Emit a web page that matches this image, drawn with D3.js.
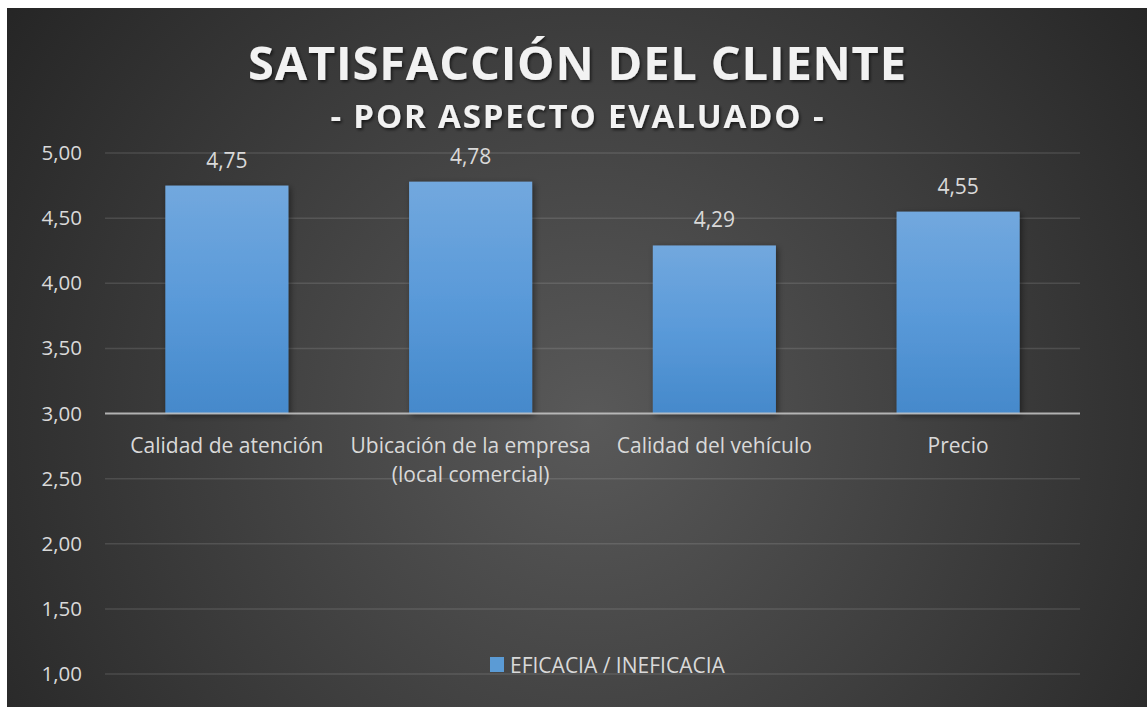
<!DOCTYPE html>
<html>
<head>
<meta charset="utf-8">
<script src="https://cdn.jsdelivr.net/npm/d3@7"></script>
<style>
  html, body { margin: 0; padding: 0; background: #ffffff; }
  svg { display: block; }
  svg text { font-family: "Open Sans", "Noto Sans", sans-serif; }
</style>
</head>
<body>
<div id="grafico"></div>
<script>
// Datos
const categorias = ["Calidad de atención", "Ubicación de la empresa\n(local comercial)", "Calidad del vehículo", "Precio"];
const valores = [4.75, 4.78, 4.29, 4.55];
const ticksY = [1, 1.5, 2, 2.5, 3, 3.5, 4, 4.5, 5];
const serie = "EFICACIA / INEFICACIA";
const titulo = "SATISFACCIÓN DEL CLIENTE";
const subtitulo = "- POR ASPECTO EVALUADO -";

const W = 1147, H = 707;
const panel = { x: 7, y: 8, w: 1140, h: 699 };
const plot = { left: 105, right: 1080, top: 153, bottom: 674 };

const fmt = v => d3.format(".2f")(v).replace(".", ",");

const svg = d3.select("#grafico")
    .append("svg")
    .attr("width", W)
    .attr("height", H);

const defs = svg.append("defs");

// Fondo con degradado radial
const fondo = defs.append("radialGradient")
    .attr("id", "fondo")
    .attr("gradientUnits", "userSpaceOnUse")
    .attr("cx", 590).attr("cy", 420).attr("r", 720);
fondo.append("stop").attr("offset", 0).attr("stop-color", "#595959");
fondo.append("stop").attr("offset", 1).attr("stop-color", "#252525");

const barraGrad = defs.append("linearGradient")
    .attr("id", "barra")
    .attr("x1", 0).attr("y1", 0).attr("x2", 0).attr("y2", 1);
barraGrad.append("stop").attr("offset", 0).attr("stop-color", "#72a8de");
barraGrad.append("stop").attr("offset", 0.5).attr("stop-color", "#5a9ad9");
barraGrad.append("stop").attr("offset", 1).attr("stop-color", "#4589cb");

const sombra = defs.append("filter").attr("id", "sombra")
    .attr("x", "-20%").attr("y", "-20%").attr("width", "140%").attr("height", "140%");
sombra.append("feDropShadow")
    .attr("dx", 2).attr("dy", 2).attr("stdDeviation", 3)
    .attr("flood-color", "#000").attr("flood-opacity", 0.45);

const sombraTexto = defs.append("filter").attr("id", "sombraTexto")
    .attr("x", "-10%").attr("y", "-30%").attr("width", "120%").attr("height", "160%");
sombraTexto.append("feDropShadow")
    .attr("dx", 1.5).attr("dy", 2).attr("stdDeviation", 1.5)
    .attr("flood-color", "#000").attr("flood-opacity", 0.6);

svg.append("rect")
    .attr("x", panel.x).attr("y", panel.y)
    .attr("width", panel.w).attr("height", panel.h)
    .attr("fill", "url(#fondo)");

// Escalas
const x = d3.scaleBand()
    .domain(categorias)
    .range([plot.left, plot.right])
    .padding(0);

const anchoBarra = x.bandwidth() * 0.505;

const y = d3.scaleLinear()
    .domain([1, 5])
    .range([plot.bottom, plot.top]);

// Cuadrícula
svg.append("g")
    .selectAll("line")
    .data(ticksY.filter(t => t !== 3))
    .enter()
    .append("line")
    .attr("x1", plot.left).attr("x2", plot.right)
    .attr("y1", d => y(d)).attr("y2", d => y(d))
    .attr("stroke", "#d9d9d9")
    .attr("stroke-opacity", 0.15)
    .attr("stroke-width", 1.5);

// Eje Y
const ejeY = svg.append("g")
    .attr("transform", `translate(${plot.left}, 0)`)
    .call(d3.axisLeft(y).tickValues(ticksY).tickFormat(fmt).tickSize(0).tickPadding(23));
ejeY.select(".domain").remove();
ejeY.selectAll("text")
    .attr("fill", "#d9d9d9")
    .style("font-size", "20.5px");

// Barras
svg.append("g")
    .selectAll("rect")
    .data(valores)
    .enter()
    .append("rect")
    .attr("x", (d, i) => x(categorias[i]) + (x.bandwidth() - anchoBarra) / 2)
    .attr("y", d => y(d))
    .attr("width", anchoBarra)
    .attr("height", d => y(3) - y(d))
    .attr("fill", "url(#barra)")
    .attr("filter", "url(#sombra)");

// Eje X en 3,00
svg.append("line")
    .attr("x1", plot.left).attr("x2", plot.right)
    .attr("y1", y(3)).attr("y2", y(3))
    .attr("stroke", "#c8c8c8")
    .attr("stroke-opacity", 0.85)
    .attr("stroke-width", 2);

// Etiquetas de datos
svg.append("g")
    .selectAll("text")
    .data(valores)
    .enter()
    .append("text")
    .attr("x", (d, i) => x(categorias[i]) + x.bandwidth() / 2)
    .attr("y", d => y(d) - 18)
    .attr("text-anchor", "middle")
    .attr("fill", "#d9d9d9")
    .style("font-size", "21px")
    .text(fmt);

// Etiquetas de categoría
const etiquetas = svg.append("g")
    .selectAll("text")
    .data(categorias)
    .enter()
    .append("text")
    .attr("text-anchor", "middle")
    .attr("fill", "#d9d9d9")
    .style("font-size", "21px");
etiquetas.selectAll("tspan")
    .data(d => d.split("\n").map(l => ({ l, c: d })))
    .enter()
    .append("tspan")
    .attr("x", d => x(d.c) + x.bandwidth() / 2)
    .attr("y", (d, i) => y(3) + 39 + i * 29)
    .text(d => d.l);

// Título
svg.append("text")
    .attr("x", 577).attr("y", 80)
    .attr("text-anchor", "middle")
    .attr("fill", "#f2f2f2")
    .attr("filter", "url(#sombraTexto)")
    .attr("textLength", 658)
    .attr("lengthAdjust", "spacing")
    .style("font-size", "47px")
    .style("font-weight", "bold")
    .text(titulo);

svg.append("text")
    .attr("x", 577).attr("y", 128)
    .attr("text-anchor", "middle")
    .attr("fill", "#f2f2f2")
    .attr("filter", "url(#sombraTexto)")
    .attr("textLength", 493)
    .attr("lengthAdjust", "spacing")
    .style("font-size", "33px")
    .style("font-weight", "bold")
    .text(subtitulo);

// Leyenda
const leyenda = svg.append("g").attr("transform", "translate(490, 657)");
leyenda.append("rect")
    .attr("width", 14).attr("height", 15)
    .attr("fill", "#5b9bd5");
leyenda.append("text")
    .attr("x", 20).attr("y", 16)
    .attr("fill", "#d9d9d9")
    .style("font-size", "21px")
    .text(serie);
</script>
</body>
</html>
